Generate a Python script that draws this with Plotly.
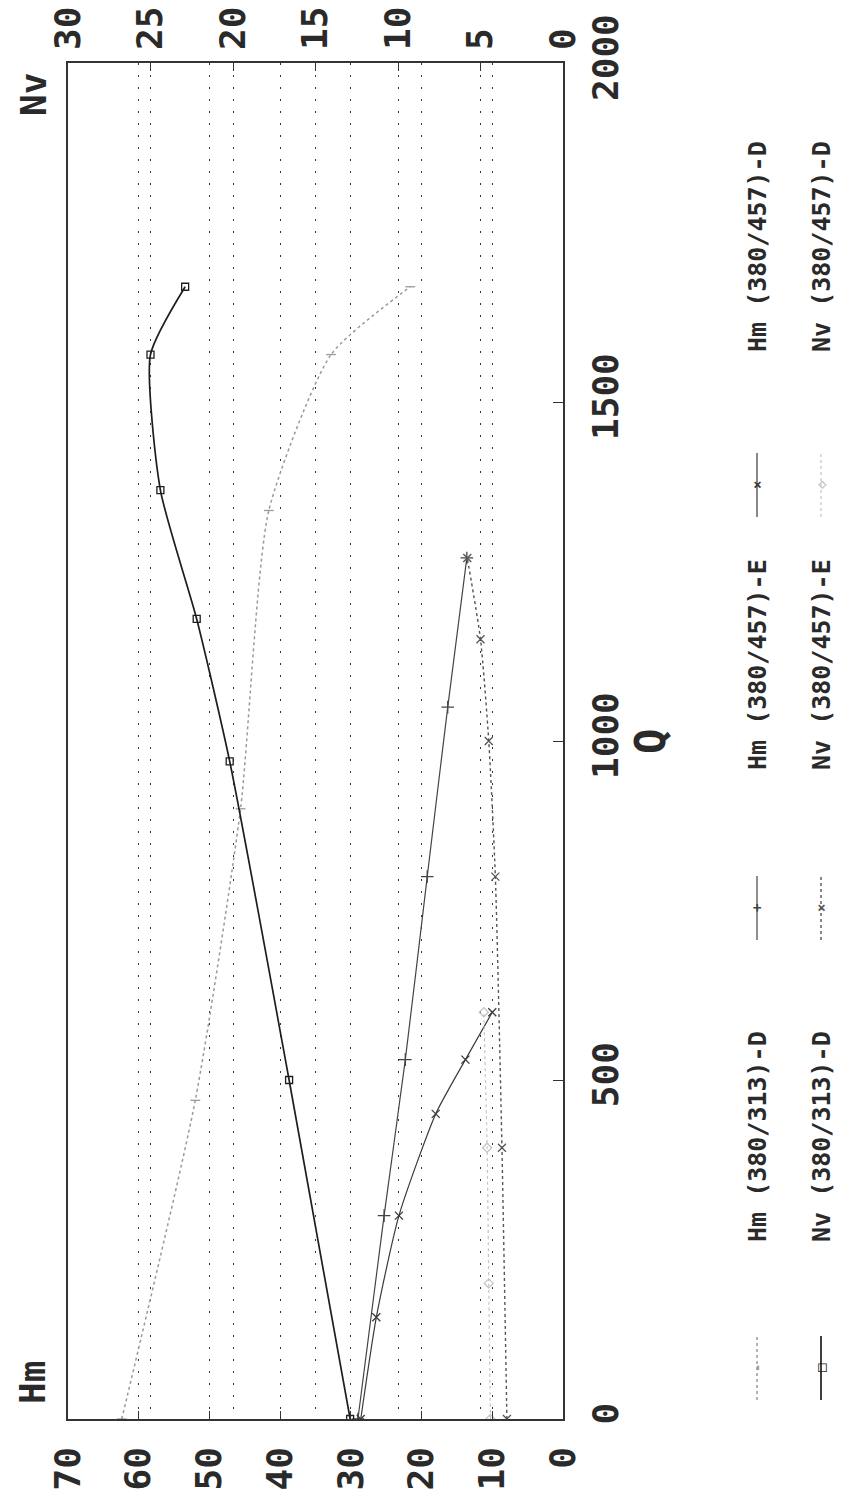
import plotly.graph_objects as go

# ---- data (Q on vertical axis, values on horizontal axes; chart is drawn rotated) ----
q_hm313 = [0, 470, 900, 1340, 1570, 1670]
hm313 = [62.4, 52.0, 45.6, 41.6, 32.8, 21.6]

q_nv313 = [0, 500, 970, 1180, 1370, 1570, 1670]
nv313 = [12.9, 16.6, 20.2, 22.2, 24.4, 25.0, 22.9]

q_hm457e = [0, 300, 530, 800, 1050, 1270]
hm457e = [29.0, 25.3, 22.3, 19.2, 16.3, 13.6]

q_nv457e = [0, 400, 800, 1000, 1150, 1270]
nv457e = [3.4, 3.7, 4.1, 4.5, 5.0, 5.8]

q_hm457d = [0, 150, 300, 450, 530, 600]
hm457d = [28.6, 26.4, 23.2, 18.0, 13.8, 10.0]

q_nv457d = [0, 200, 400, 600]
nv457d = [4.4, 4.5, 4.6, 4.8]

hm_ticks = [0, 10, 20, 30, 40, 50, 60, 70]
nv_ticks = [0, 5, 10, 15, 20, 25, 30]
q_ticks = [0, 500, 1000, 1500, 2000]

names = ["Hm (380/313)-D", "Nv (380/313)-D",
         "Hm (380/457)-E", "Nv (380/457)-E",
         "Hm (380/457)-D", "Nv (380/457)-D"]

# ---- layout constants (screen pixels; the page body adds an 8px offset) ----
SW, SH, OFF = 842, 1490, 8
L, R, T, B = 68, 563, 63, 1419
FONT = "DejaVu Sans Mono"
TXT = "#2a2a2a"
styles = [
    dict(color="#9a9a9a", dash="dot", width=1.5, symbol="line-ew", msize=7, glyph="-"),
    dict(color="#1e1e1e", dash="solid", width=1.7, symbol="square-open", msize=7, glyph="□"),
    dict(color="#444444", dash="solid", width=1.2, symbol="cross-thin", msize=9, glyph="+"),
    dict(color="#555555", dash="dot", width=1.4, symbol="x-thin", msize=8, glyph="×"),
    dict(color="#3a3a3a", dash="solid", width=1.2, symbol="x-thin", msize=8, glyph="×"),
    dict(color="#c4c4c4", dash="dot", width=1.2, symbol="diamond-open", msize=7, glyph="◇"),
]
series = [(q_hm313, hm313, "x"), (q_nv313, nv313, "x2"),
          (q_hm457e, hm457e, "x"), (q_nv457e, nv457e, "x2"),
          (q_hm457d, hm457d, "x"), (q_nv457d, nv457d, "x2")]

fig = go.Figure()
for (q, v, ax), st, nm in zip(series, styles, names):
    fig.add_trace(go.Scatter(
        x=v, y=q, xaxis=ax, yaxis="y", name=nm, mode="lines+markers",
        line=dict(color=st["color"], dash=st["dash"], width=st["width"], shape="spline", smoothing=0.6),
        marker=dict(symbol=st["symbol"], size=st["msize"], color=st["color"],
                    line=dict(color=st["color"], width=1.3)),
        showlegend=False))

tickfont = dict(family=FONT, size=36, color=TXT, weight="bold")
grid = dict(showgrid=True, gridcolor="#333", gridwidth=1.4, griddash="2px,10px")

fig.update_layout(
    width=SW - OFF, height=SH - OFF,
    margin=dict(l=L - OFF, r=SW - R, t=T - OFF, b=SH - B),
    paper_bgcolor="white", plot_bgcolor="white",
    font=dict(family=FONT, color=TXT),
    xaxis=dict(range=[70, 0], tickvals=hm_ticks, tickangle=-90, tickfont=tickfont,
               ticks="inside", ticklen=8, tickcolor="#333", side="bottom",
               showline=True, linecolor="#333", linewidth=1.5, mirror=True,
               zeroline=False, ticklabelstandoff=12, automargin=False, **grid),
    xaxis2=dict(range=[30, 0], tickvals=nv_ticks, tickangle=-90, tickfont=tickfont,
                ticks="inside", ticklen=8, tickcolor="#333", side="top",
                overlaying="x", zeroline=False, ticklabelstandoff=12, automargin=False, **grid),
    yaxis=dict(range=[0, 2000], tickvals=q_ticks, tickangle=-90, tickfont=tickfont,
               ticks="inside", ticklen=10, tickcolor="#333", side="right",
               showgrid=False, zeroline=False, showline=True, linecolor="#333",
               linewidth=1.5, mirror=True, ticklabelstandoff=10, automargin=False),
)

def px(xp):
    return (xp - L) / (R - L)

def py(yp):
    return (B - yp) / (B - T)

def label(text, xp, yp, size, color=TXT):
    fig.add_annotation(text="<b>%s</b>" % text, x=px(xp), y=py(yp), xref="paper", yref="paper",
                       xanchor="center", yanchor="middle", showarrow=False, textangle=-90,
                       font=dict(family=FONT, size=size, color=color))

label("Hm", 32, 1383, 36)
label("Nv", 33, 95, 36)
label("Q", 650, 742, 42)

# legend drawn as rotated text (two columns, three groups)
col_x = [757, 821]
grp_text_y = [1137, 665, 247]
grp_sym_y = [1368, 908, 485]
for i, (nm, st) in enumerate(zip(names, styles)):
    g, c = i // 2, i % 2
    xx = col_x[c]
    label(nm, xx, grp_text_y[g], 25)
    fig.add_shape(type="line", xref="paper", yref="paper",
                  x0=px(xx), x1=px(xx), y0=py(grp_sym_y[g] + 32), y1=py(grp_sym_y[g] - 32),
                  line=dict(color=st["color"], width=st["width"], dash=st["dash"]))
    label(st["glyph"], xx, grp_sym_y[g], 14, st["color"])

fig.write_html("out.html")
